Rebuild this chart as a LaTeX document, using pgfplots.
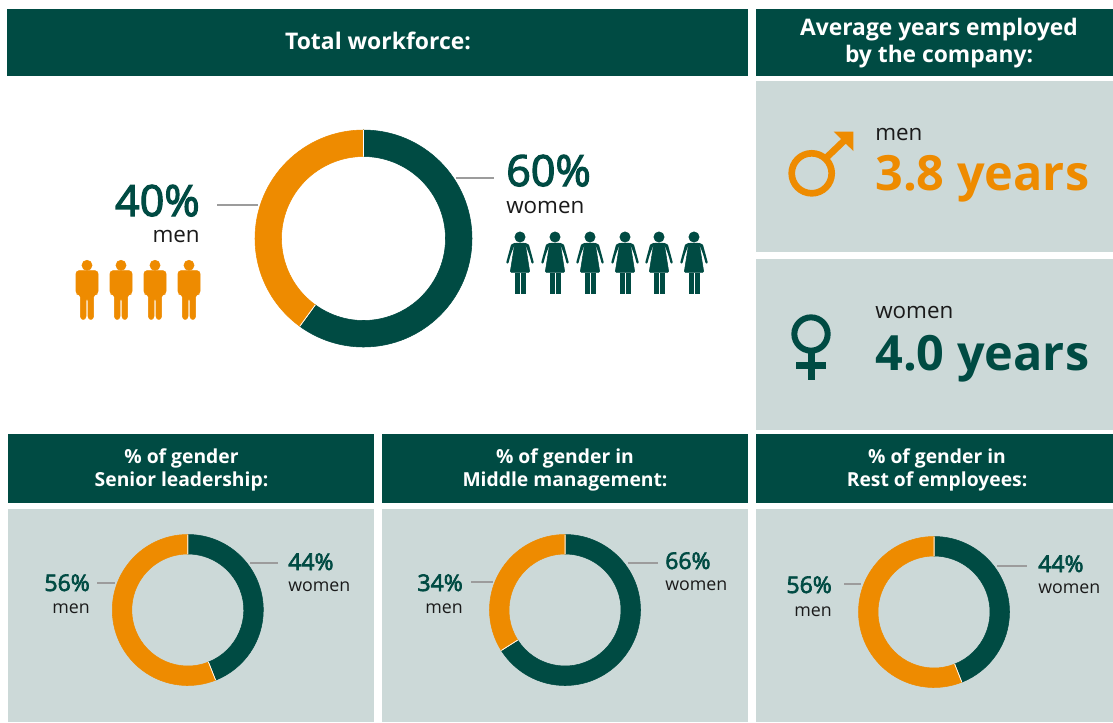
\documentclass[border=0pt]{standalone}
\usepackage{fontspec}
\setmainfont{Open Sans}
\newfontfamily\semi[FakeBold=2.8]{Open Sans}
\usepackage{pgfplots}
\usepackage{pgfplotstable}
\pgfplotsset{compat=1.18}
\definecolor{dark}{HTML}{004B43}
\definecolor{orng}{HTML}{EE8B00}
\definecolor{panel}{HTML}{CCD9D8}
\definecolor{ink}{HTML}{1A1A1A}
\definecolor{lead}{HTML}{9C9C9C}
% donut shares, in per cent; centre and radii in pixels
\pgfplotstableread{
cx cy R r share
363.5 238.5 108.5 82 60
187.8 610 75.5 56 44
565 610 75.5 56 66
934 612 75.5 56 44
}\womentab
\pgfplotstableread{
cx cy R r share
363.5 238.5 108.5 82 40
187.8 610 75.5 56 56
565 610 75.5 56 34
934 612 75.5 56 56
}\mentab
\pgfdeclareplotmark{man}{%
  \begin{scope}[x=.75pt,y=.75pt]
  \fill (0,24.7) circle[radius=5.1];
  \fill[rounded corners=2.2pt] (-11,19.3) -- (11,19.3) -- (11,-4.3) -- (6.6,-4.3) -- (6.6,-29.3) -- (1,-29.3) -- (1,-8) -- (-1,-8) -- (-1,-29.3) -- (-6.6,-29.3) -- (-6.6,-4.3) -- (-11,-4.3) -- cycle;
  \end{scope}}
\pgfdeclareplotmark{woman}{%
  \begin{scope}[x=.75pt,y=.75pt]
  \fill (0,26) circle[radius=5.2];
  \fill[rounded corners=.8pt] (-5.2,19.9) -- (5.2,19.9) -- (9.8,-9.3) -- (-9.8,-9.3) -- cycle;
  \fill (-5.2,-10) rectangle (-1,-30);
  \fill (1,-10) rectangle (5.2,-30);
  \draw[line width=1.7pt,line cap=round,line join=round] (5,19) -- (8,17.5) -- (12.6,0.5);
  \draw[line width=1.7pt,line cap=round,line join=round] (-5,19) -- (-8,17.5) -- (-12.6,0.5);
  \end{scope}}
\pgfdeclareplotmark{ringcw}{%
  \pgfmathsetmacro\Rp{\ringR*.75}\pgfmathsetmacro\rp{\ringr*.75}\pgfmathsetmacro\eang{90-3.6*\ringshare}%
  \fill (90:\Rp pt) arc[start angle=90,end angle=\eang,radius=\Rp pt] -- (\eang:\rp pt) arc[start angle=\eang,end angle=90,radius=\rp pt] -- cycle;
  \draw[white,line width=.5pt] (90:\rp pt) -- (90:\Rp pt) (\eang:\rp pt) -- (\eang:\Rp pt);}
\pgfdeclareplotmark{ringccw}{%
  \pgfmathsetmacro\Rp{\ringR*.75}\pgfmathsetmacro\rp{\ringr*.75}\pgfmathsetmacro\eang{90+3.6*\ringshare}%
  \fill (90:\Rp pt) arc[start angle=90,end angle=\eang,radius=\Rp pt] -- (\eang:\rp pt) arc[start angle=\eang,end angle=90,radius=\rp pt] -- cycle;
  \draw[white,line width=.5pt] (90:\rp pt) -- (90:\Rp pt) (\eang:\rp pt) -- (\eang:\Rp pt);}
\pgfplotsset{ringplot/.style={scatter,only marks,
  visualization depends on={\thisrow{R}\as\ringR},
  visualization depends on={\thisrow{r}\as\ringr},
  visualization depends on={\thisrow{share}\as\ringshare},
  scatter/@pre marker code/.code={\scope},
  scatter/@post marker code/.code={\endscope}}}
\newcommand\Tx[6]{\node[anchor=#1,inner sep=0pt,text=#2] at (axis cs:#5) {\fontsize{\fpeval{#4*.75}}{\fpeval{#4*.9}}#3\selectfont #6};}
\begin{document}
\begin{tikzpicture}
\begin{axis}[width=834.75pt,height=541.5pt,scale only axis,hide axis,clip=false,
  xmin=0,xmax=1113,ymin=0,ymax=722,y dir=reverse]
\fill[white] (axis cs:0,0) rectangle (axis cs:1113,722);
% headers
\fill[dark] (axis cs:7,9) rectangle (axis cs:748,76);
\fill[dark] (axis cs:756,9) rectangle (axis cs:1113,76);
\fill[dark] (axis cs:8,434) rectangle (axis cs:374,503);
\fill[dark] (axis cs:382,434) rectangle (axis cs:748,503);
\fill[dark] (axis cs:756,434) rectangle (axis cs:1113,503);
% panels
\fill[panel] (axis cs:756,81) rectangle (axis cs:1113,252);
\fill[panel] (axis cs:756,259) rectangle (axis cs:1113,430);
\fill[panel] (axis cs:8,509) rectangle (axis cs:374,722);
\fill[panel] (axis cs:382,509) rectangle (axis cs:748,722);
\fill[panel] (axis cs:756,509) rectangle (axis cs:1113,722);
% leaders
\draw[lead,line width=.9pt] (axis cs:217,205) -- (axis cs:258,205);
\draw[lead,line width=.9pt] (axis cs:456,178) -- (axis cs:494,178);
\draw[lead,line width=.9pt] (axis cs:97,583) -- (axis cs:115,583);
\draw[lead,line width=.9pt] (axis cs:250,563) -- (axis cs:278,563);
\draw[lead,line width=.9pt] (axis cs:471,582) -- (axis cs:493,582);
\draw[lead,line width=.9pt] (axis cs:628,563) -- (axis cs:658,563);
\draw[lead,line width=.9pt] (axis cs:844,584) -- (axis cs:861,584);
\draw[lead,line width=.9pt] (axis cs:997,566) -- (axis cs:1027,566);
% donuts
\addplot[ringplot,mark=ringcw,color=dark,fill=dark] table[x=cx,y=cy] {\womentab};
\addplot[ringplot,mark=ringccw,color=orng,fill=orng] table[x=cx,y=cy] {\mentab};
% people
\addplot[only marks,mark=man,color=orng,fill=orng,mark options={draw=none,fill=orng}] coordinates {(87,290)(121,290)(155,290)(189,290)};
\addplot[only marks,mark=woman,color=dark,fill=dark] coordinates {(520,263)(555,263)(590,263)(625,263)(659,263)(694,263)};
% gender symbols
\draw[orng,line width=5pt] (axis cs:811.7,173.3) circle[radius=15pt];
\draw[orng,line width=5pt] (axis cs:826,158) -- (axis cs:848,137);
\fill[orng] (axis cs:833.7,131.7) -- (axis cs:853.3,131.7) -- (axis cs:853.3,151) -- cycle;
\draw[dark,line width=4.5pt] (axis cs:811,334) circle[radius=12.5pt];
\fill[dark] (axis cs:808,350) rectangle (axis cs:814.5,379.5);
\fill[dark] (axis cs:796,361.5) rectangle (axis cs:825.7,368.5);
% text
\Tx{base}{white}{\bfseries}{22.9}{378,49}{Total workforce:}
\Tx{base}{white}{\bfseries}{22.8}{939,35}{Average years employed}
\Tx{base}{white}{\bfseries}{22.8}{939,62}{by the company:}
\Tx{base}{white}{\bfseries}{19.3}{181.5,463}{\% of gender}
\Tx{base}{white}{\bfseries}{19.3}{181.5,486}{Senior leadership:}
\Tx{base}{white}{\bfseries}{19.3}{565,463}{\% of gender in}
\Tx{base}{white}{\bfseries}{19.3}{565,486}{Middle management:}
\Tx{base}{white}{\bfseries}{19.3}{937,463}{\% of gender in}
\Tx{base}{white}{\bfseries}{19.3}{937,486}{Rest of employees:}
\Tx{base west}{ink}{}{22.4}{875,140}{men}
\Tx{base west}{orng}{\bfseries}{48.6}{875,190}{3.8 years}
\Tx{base west}{ink}{}{22.4}{875,318}{women}
\Tx{base west}{dark}{\bfseries}{48.6}{875,370}{4.0 years}
\Tx{base east}{dark}{\semi}{43}{200,216}{40\%}
\Tx{base east}{ink}{}{22.4}{200,242}{men}
\Tx{base west}{dark}{\semi}{43}{506,186}{60\%}
\Tx{base west}{ink}{}{22.4}{506,213}{women}
\Tx{base west}{dark}{\semi}{23}{288,570}{44\%}
\Tx{base west}{ink}{}{17.8}{288,591}{women}
\Tx{base east}{dark}{\semi}{23}{90,591}{56\%}
\Tx{base east}{ink}{}{17.8}{90,613}{men}
\Tx{base west}{dark}{\semi}{23}{665,569}{66\%}
\Tx{base west}{ink}{}{17.8}{665,590}{women}
\Tx{base east}{dark}{\semi}{23}{463,591}{34\%}
\Tx{base east}{ink}{}{17.8}{463,613}{men}
\Tx{base west}{dark}{\semi}{23}{1038,572}{44\%}
\Tx{base west}{ink}{}{17.8}{1038,593}{women}
\Tx{base east}{dark}{\semi}{23}{832,593}{56\%}
\Tx{base east}{ink}{}{17.8}{832,616}{men}
\end{axis}
\end{tikzpicture}
\end{document}
